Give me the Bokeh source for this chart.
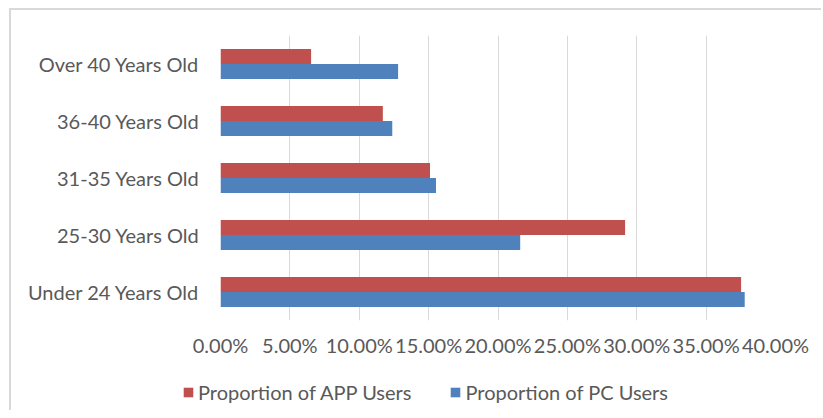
from bokeh.plotting import figure
from bokeh.layouts import column
from bokeh.models import (FactorRange, Range1d, FixedTicker, NumeralTickFormatter, Legend, LegendItem,
                          ColumnDataSource)
from bokeh.transform import dodge
from bokeh.embed import file_html
from bokeh.resources import INLINE

categories = ["Under 24 Years Old", "25-30 Years Old", "31-35 Years Old", "36-40 Years Old", "Over 40 Years Old"]
app_users = [0.3752, 0.2916, 0.1510, 0.1170, 0.0653]
pc_users = [0.3778, 0.2160, 0.1553, 0.1238, 0.1280]
x_ticks = [0.0, 0.05, 0.10, 0.15, 0.20, 0.25, 0.30, 0.35, 0.40]
series_names = ["Proportion of APP Users", "Proportion of PC Users"]
series_colors = ["#C0504D", "#4F81BD"]

FONT = "Lato"
TXT = "#595959"
FS = "20px"

src = ColumnDataSource(dict(cat=categories, app=app_users, pc=pc_users))

p = figure(width=810, height=360, output_backend="svg", toolbar_location=None,
           y_range=FactorRange(*categories), x_range=Range1d(0, 0.40),
           min_border_left=209, min_border_right=46, min_border_top=25, min_border_bottom=50)
p.outline_line_color = None
p.frame_align = False

bh = 0.263
p.hbar(y=dodge("cat", bh / 2, range=p.y_range), right="app", left=0, height=bh,
       source=src, fill_color=series_colors[0], line_color=None)
p.hbar(y=dodge("cat", -bh / 2, range=p.y_range), right="pc", left=0, height=bh,
       source=src, fill_color=series_colors[1], line_color=None)

p.xaxis.ticker = FixedTicker(ticks=x_ticks)
p.xaxis.formatter = NumeralTickFormatter(format="0.00%")
p.xgrid.ticker = FixedTicker(ticks=x_ticks)
p.xgrid.grid_line_color = "#d9d9d9"
p.xgrid.grid_line_width = 1
p.ygrid.grid_line_color = None

for ax in (p.xaxis[0], p.yaxis[0]):
    ax.axis_line_color = None
    ax.major_tick_line_color = None
    ax.minor_tick_line_color = None
    ax.major_tick_out = 0
    ax.major_tick_in = 0
    ax.major_label_text_font = FONT
    ax.major_label_text_font_size = FS
    ax.major_label_text_color = TXT
p.xaxis.major_label_standoff = 12
p.yaxis.major_label_standoff = 21

# legend strip below the chart (its own bars fall outside its ranges, only legend swatches show)
lg = figure(width=810, height=40, output_backend="svg", toolbar_location=None,
            x_range=Range1d(1, 2), y_range=Range1d(1, 2),
            min_border_left=0, min_border_right=0, min_border_top=0, min_border_bottom=0)
lg.outline_line_color = None
lg.frame_align = False
lg.axis.visible = False
lg.grid.visible = False
r_app = lg.hbar(y="app", right="app", left=0, height=0.01, source=src,
                fill_color=series_colors[0], line_color=None)
r_pc = lg.hbar(y="pc", right="pc", left=0, height=0.01, source=src,
               fill_color=series_colors[1], line_color=None)

legend = Legend(items=[LegendItem(label=series_names[0], renderers=[r_app]),
                       LegendItem(label=series_names[1], renderers=[r_pc])],
                orientation="horizontal", location=(171, 6),
                padding=0, margin=0, spacing=38, label_standoff=4,
                glyph_width=12, glyph_height=12, label_height=20,
                border_line_color=None, background_fill_alpha=0,
                label_text_font=FONT, label_text_font_size=FS, label_text_color=TXT)
lg.add_layout(legend, "center")

layout = column(p, lg, spacing=0)
layout.styles = {"margin-left": "9px", "margin-top": "8px",
                 "border-left": "2px solid #d9d9d9", "border-top": "2px solid #d9d9d9"}

open("out.html", "w").write(file_html(layout, INLINE))
